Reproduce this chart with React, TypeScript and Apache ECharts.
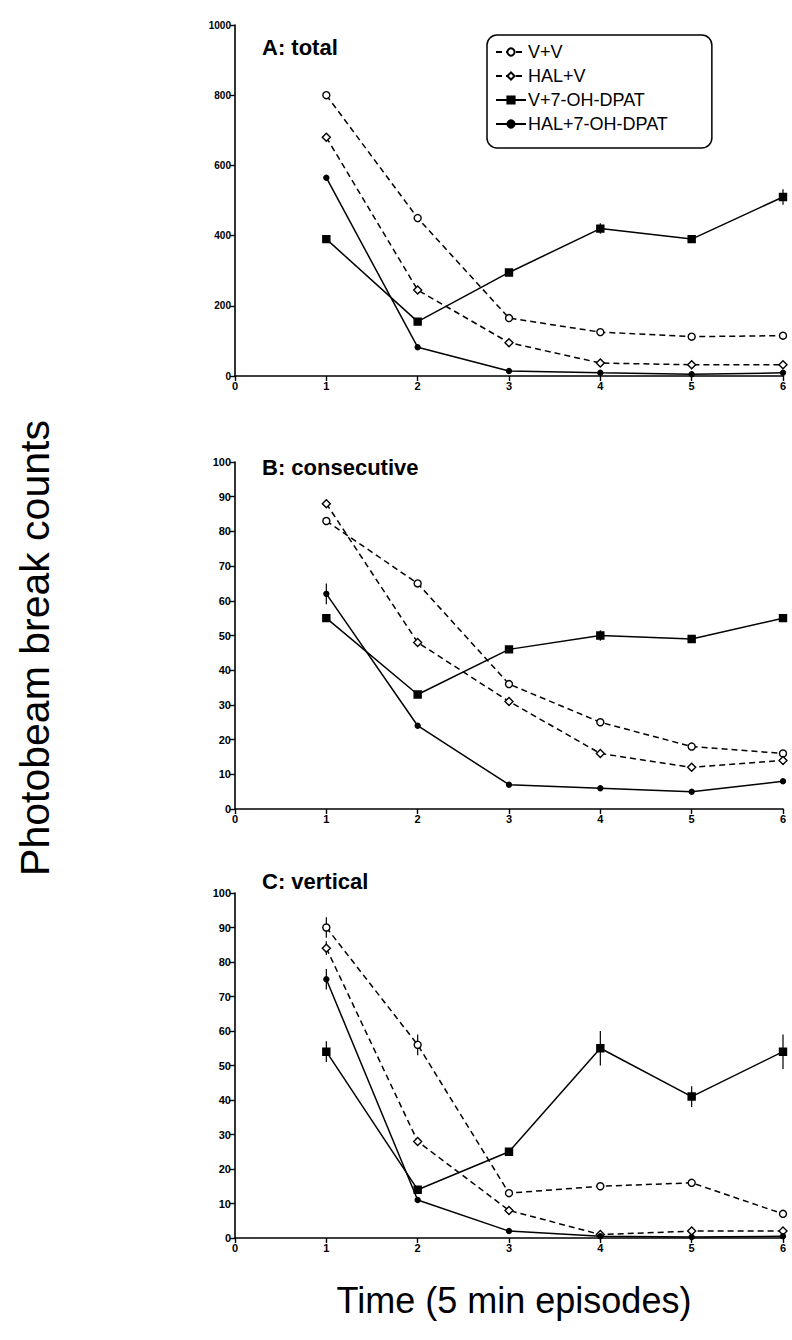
import React, { useEffect, useRef } from "react";
import * as echarts from "echarts";

// Time points (5 min episodes)
const episodes = [1, 2, 3, 4, 5, 6];
const xTicks = [0, 1, 2, 3, 4, 5, 6];

const groupNames = ["V+V", "HAL+V", "V+7-OH-DPAT", "HAL+7-OH-DPAT"];

// Panel A: total photobeam breaks
const totalVV = [800, 450, 165, 125, 112, 115];
const totalHALV = [680, 245, 95, 37, 32, 32];
const totalVDPAT = [390, 155, 295, 420, 390, 510];
const totalHALDPAT = [565, 82, 14, 9, 5, 9];

// Panel B: consecutive
const consVV = [83, 65, 36, 25, 18, 16];
const consHALV = [88, 48, 31, 16, 12, 14];
const consVDPAT = [55, 33, 46, 50, 49, 55];
const consHALDPAT = [62, 24, 7, 6, 5, 8];

// Panel C: vertical
const vertVV = [90, 56, 13, 15, 16, 7];
const vertHALV = [84, 28, 8, 1, 2, 2];
const vertVDPAT = [54, 14, 25, 55, 41, 54];
const vertHALDPAT = [75, 11, 2, 0.5, 0.3, 0.5];

// SEM values (0 = not drawn)
const totalErrVV = [0, 0, 0, 0, 0, 0];
const totalErrHALV = [0, 0, 0, 0, 0, 0];
const totalErrVDPAT = [0, 0, 0, 15, 10, 22];
const totalErrHALDPAT = [0, 0, 0, 0, 0, 0];

const consErrVV = [0, 0, 0, 0, 0, 0];
const consErrHALV = [0, 0, 0, 0, 0, 0];
const consErrVDPAT = [0, 0, 0, 1.5, 0, 0];
const consErrHALDPAT = [3, 0, 0, 0, 0, 0];

const vertErrVV = [3, 3, 0, 0, 0, 0];
const vertErrHALV = [2, 0, 0, 0, 0, 0];
const vertErrVDPAT = [3, 0, 0, 5, 3, 5];
const vertErrHALDPAT = [3, 0, 0, 0, 0, 0];

const panelTitles = ["A: total", "B: consecutive", "C: vertical"];
const yMax = [1000, 100, 100];
const yStep = [200, 10, 10];

const FONT = '"Liberation Sans", Arial, Helvetica, sans-serif';

export default function App() {
  const ref = useRef<HTMLDivElement>(null);

  useEffect(() => {
    document.body.style.margin = "0";
    if (!ref.current) return;
    const chart = echarts.init(ref.current, undefined, { renderer: "svg" });

    const panels = [
      { values: [totalVV, totalHALV, totalVDPAT, totalHALDPAT], errs: [totalErrVV, totalErrHALV, totalErrVDPAT, totalErrHALDPAT] },
      { values: [consVV, consHALV, consVDPAT, consHALDPAT], errs: [consErrVV, consErrHALV, consErrVDPAT, consErrHALDPAT] },
      { values: [vertVV, vertHALV, vertVDPAT, vertHALDPAT], errs: [vertErrVV, vertErrHALV, vertErrVDPAT, vertErrHALDPAT] },
    ];

    const grids = [
      { left: 235, top: 25, width: 548, height: 351 },
      { left: 235, top: 462, width: 548, height: 347 },
      { left: 235, top: 893, width: 548, height: 345 },
    ];

    const styles = [
      { symbol: "circle", size: 7, fill: "#fff", dashed: true },
      { symbol: "diamond", size: 8, fill: "#fff", dashed: true },
      { symbol: "rect", size: 7, fill: "#000", dashed: false },
      { symbol: "circle", size: 5, fill: "#000", dashed: false },
    ];

    const axisLine = { show: true, lineStyle: { color: "#000", width: 1.6 } };
    const axisTick = { show: true, inside: false, length: 5, lineStyle: { color: "#000", width: 1.4 } };
    const axisLabel = { color: "#000", fontSize: 11, fontWeight: "bold" as const, fontFamily: FONT, margin: 4 };

    const xAxes = grids.map((_, i) => ({
      type: "value",
      gridIndex: i,
      min: 0,
      max: 6,
      interval: 1,
      axisLine: { ...axisLine, onZero: false },
      axisTick,
      axisLabel: { ...axisLabel, formatter: (v: number) => (xTicks.includes(v) ? String(v) : "") },
      splitLine: { show: false },
    }));

    const yAxes = grids.map((_, i) => ({
      type: "value",
      gridIndex: i,
      min: 0,
      max: yMax[i],
      interval: yStep[i],
      axisLine,
      axisTick,
      axisLabel: { ...axisLabel, fontSize: i === 0 ? 10 : 11, formatter: (v: number) => String(v) },
      splitLine: { show: false },
    }));

    const series: any[] = [];
    panels.forEach((panel, p) => {
      panel.values.forEach((vals, g) => {
        const st = styles[g];
        series.push({
          type: "line",
          name: groupNames[g],
          xAxisIndex: p,
          yAxisIndex: p,
          data: episodes.map((x, i) => [x, vals[i]]),
          symbol: st.symbol,
          symbolSize: st.size,
          showAllSymbol: true,
          itemStyle: { color: st.fill, borderColor: "#000", borderWidth: 1.4 },
          lineStyle: { color: "#000", width: 1.5, type: st.dashed ? [6, 4] : "solid" },
          z: 3,
        });
        const errs = panel.errs[g];
        const errData = episodes
          .map((x, i) => [x, vals[i], errs[i]])
          .filter((d) => d[2] > 0);
        if (errData.length) {
          series.push({
            type: "custom",
            xAxisIndex: p,
            yAxisIndex: p,
            silent: true,
            z: 2,
            data: errData,
            renderItem: (_params: any, api: any) => {
              const x = api.value(0);
              const y = api.value(1);
              const e = api.value(2);
              const top = api.coord([x, y + e]);
              const bot = api.coord([x, Math.max(0, y - e)]);
              return {
                type: "line",
                shape: { x1: top[0], y1: top[1], x2: bot[0], y2: bot[1] },
                style: { stroke: "#000", lineWidth: 1.2 },
              };
            },
          });
        }
      });
    });

    const titleTops = [36, 456, 870];

    chart.setOption({
      animation: false,
      backgroundColor: "#fff",
      grid: grids,
      xAxis: xAxes,
      yAxis: yAxes,
      title: panelTitles.map((t, i) => ({
        text: t,
        left: 262,
        top: titleTops[i],
        padding: 0,
        textStyle: { fontSize: 22, fontWeight: "bold", fontFamily: FONT, color: "#000" },
      })),
      legend: {
        data: groupNames,
        orient: "vertical",
        left: 487,
        top: 35,
        itemWidth: 30,
        itemHeight: 9,
        itemGap: 6,
        padding: [8, 44, 15, 8],
        borderColor: "#000",
        borderWidth: 1.5,
        borderRadius: 10,
        backgroundColor: "#fff",
        selectedMode: false,
        textStyle: { fontSize: 18, fontFamily: FONT, color: "#000", padding: [0, 0, 0, -3] },
      },
      graphic: [
        {
          type: "text",
          x: 35,
          y: 648,
          rotation: Math.PI / 2,
          style: {
            text: "Photobeam break counts",
            fontSize: 41,
            fontFamily: FONT,
            fill: "#000",
            align: "center",
            verticalAlign: "middle",
          },
        },
        {
          type: "text",
          x: 514,
          y: 1300,
          style: {
            text: "Time (5 min episodes)",
            fontSize: 36,
            fontFamily: FONT,
            fill: "#000",
            align: "center",
            verticalAlign: "middle",
          },
        },
      ],
      series,
    });

    return () => chart.dispose();
  }, []);

  return <div ref={ref} style={{ width: 792, height: 1340 }} />;
}
